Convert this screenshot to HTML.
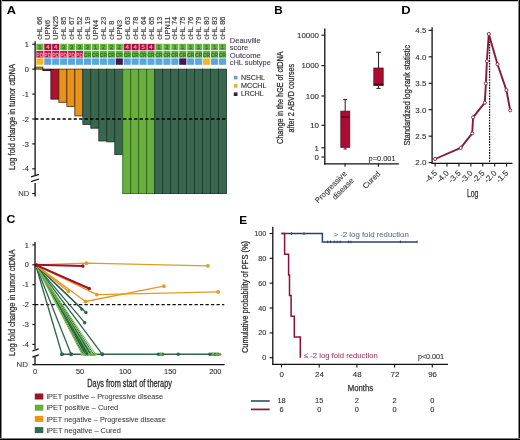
<!DOCTYPE html>
<html><head><meta charset="utf-8"><title>Figure</title>
<style>
html,body{margin:0;padding:0;background:#fff;}
body{width:520px;height:440px;overflow:hidden;}
svg{display:block;font-family:"Liberation Sans", sans-serif;will-change:transform;}
</style></head><body>
<svg width="520" height="440" viewBox="0 0 520 440">
<rect x="0" y="0" width="520" height="440" fill="#fff" />
<text x="6.7" y="13.6" font-size="10.6" fill="#000" font-weight="bold" textLength="9.2" lengthAdjust="spacingAndGlyphs">A</text>
<text transform="translate(42.47 39.7) rotate(-90)" font-size="7.4" fill="#383838" stroke="#383838" stroke-width="0.14">cHL 66</text>
<rect x="36.3" y="43.8" width="7.14" height="6.5" fill="#66b446" />
<text x="39.87" y="49.3" font-size="6" fill="#2f7a22" stroke="#2f7a22" stroke-width="0.3" text-anchor="middle">1</text>
<rect x="36.3" y="51" width="7.14" height="6.6" fill="#b81c48" />
<text x="39.87" y="56.5" font-size="5.8" fill="#ee8aa6" stroke="#ee8aa6" stroke-width="0.3" text-anchor="middle" textLength="7.04" lengthAdjust="spacingAndGlyphs">PD</text>
<rect x="36.3" y="58.4" width="7.14" height="6.4" fill="#f1b823" />
<text transform="translate(50.41 39.7) rotate(-90)" font-size="7.4" fill="#383838" stroke="#383838" stroke-width="0.14">UPN6</text>
<rect x="44.24" y="43.8" width="7.14" height="6.5" fill="#a8113a" />
<text x="47.81" y="49.3" font-size="6" fill="#ee8aa6" stroke="#ee8aa6" stroke-width="0.3" text-anchor="middle">4</text>
<rect x="44.24" y="51" width="7.14" height="6.6" fill="#b81c48" />
<text x="47.81" y="56.5" font-size="5.8" fill="#ee8aa6" stroke="#ee8aa6" stroke-width="0.3" text-anchor="middle" textLength="7.04" lengthAdjust="spacingAndGlyphs">PD</text>
<rect x="44.24" y="58.4" width="7.14" height="6.4" fill="#5ba6df" />
<text transform="translate(58.35 39.7) rotate(-90)" font-size="7.4" fill="#383838" stroke="#383838" stroke-width="0.14">UPN25</text>
<rect x="52.18" y="43.8" width="7.14" height="6.5" fill="#a8113a" />
<text x="55.75" y="49.3" font-size="6" fill="#ee8aa6" stroke="#ee8aa6" stroke-width="0.3" text-anchor="middle">4</text>
<rect x="52.18" y="51" width="7.14" height="6.6" fill="#b81c48" />
<text x="55.75" y="56.5" font-size="5.8" fill="#ee8aa6" stroke="#ee8aa6" stroke-width="0.3" text-anchor="middle" textLength="7.04" lengthAdjust="spacingAndGlyphs">PD</text>
<rect x="52.18" y="58.4" width="7.14" height="6.4" fill="#5ba6df" />
<text transform="translate(66.29 39.7) rotate(-90)" font-size="7.4" fill="#383838" stroke="#383838" stroke-width="0.14">cHL 85</text>
<rect x="60.12" y="43.8" width="7.14" height="6.5" fill="#66b446" />
<text x="63.69" y="49.3" font-size="6" fill="#2f7a22" stroke="#2f7a22" stroke-width="0.3" text-anchor="middle">3</text>
<rect x="60.12" y="51" width="7.14" height="6.6" fill="#b81c48" />
<text x="63.69" y="56.5" font-size="5.8" fill="#ee8aa6" stroke="#ee8aa6" stroke-width="0.3" text-anchor="middle" textLength="7.04" lengthAdjust="spacingAndGlyphs">PD</text>
<rect x="60.12" y="58.4" width="7.14" height="6.4" fill="#5ba6df" />
<text transform="translate(74.23 39.7) rotate(-90)" font-size="7.4" fill="#383838" stroke="#383838" stroke-width="0.14">cHL 67</text>
<rect x="68.06" y="43.8" width="7.14" height="6.5" fill="#66b446" />
<text x="71.63" y="49.3" font-size="6" fill="#2f7a22" stroke="#2f7a22" stroke-width="0.3" text-anchor="middle">3</text>
<rect x="68.06" y="51" width="7.14" height="6.6" fill="#b81c48" />
<text x="71.63" y="56.5" font-size="5.8" fill="#ee8aa6" stroke="#ee8aa6" stroke-width="0.3" text-anchor="middle" textLength="7.04" lengthAdjust="spacingAndGlyphs">PD</text>
<rect x="68.06" y="58.4" width="7.14" height="6.4" fill="#5ba6df" />
<text transform="translate(82.17 39.7) rotate(-90)" font-size="7.4" fill="#383838" stroke="#383838" stroke-width="0.14">cHL 52</text>
<rect x="76" y="43.8" width="7.14" height="6.5" fill="#66b446" />
<text x="79.57" y="49.3" font-size="6" fill="#2f7a22" stroke="#2f7a22" stroke-width="0.3" text-anchor="middle">3</text>
<rect x="76" y="51" width="7.14" height="6.6" fill="#b81c48" />
<text x="79.57" y="56.5" font-size="5.8" fill="#ee8aa6" stroke="#ee8aa6" stroke-width="0.3" text-anchor="middle" textLength="7.04" lengthAdjust="spacingAndGlyphs">PD</text>
<rect x="76" y="58.4" width="7.14" height="6.4" fill="#5ba6df" />
<text transform="translate(90.11 39.7) rotate(-90)" font-size="7.4" fill="#383838" stroke="#383838" stroke-width="0.14">cHL 19</text>
<rect x="83.94" y="43.8" width="7.14" height="6.5" fill="#66b446" />
<text x="87.51" y="49.3" font-size="6" fill="#2f7a22" stroke="#2f7a22" stroke-width="0.3" text-anchor="middle">3</text>
<rect x="83.94" y="51" width="7.14" height="6.6" fill="#66b446" />
<text x="87.51" y="56.5" font-size="5.8" fill="#2f7a22" stroke="#2f7a22" stroke-width="0.3" text-anchor="middle" textLength="7.04" lengthAdjust="spacingAndGlyphs">CR</text>
<rect x="83.94" y="58.4" width="7.14" height="6.4" fill="#5ba6df" />
<text transform="translate(98.05 39.7) rotate(-90)" font-size="7.4" fill="#383838" stroke="#383838" stroke-width="0.14">UPN4</text>
<rect x="91.88" y="43.8" width="7.14" height="6.5" fill="#66b446" />
<text x="95.45" y="49.3" font-size="6" fill="#2f7a22" stroke="#2f7a22" stroke-width="0.3" text-anchor="middle">1</text>
<rect x="91.88" y="51" width="7.14" height="6.6" fill="#66b446" />
<text x="95.45" y="56.5" font-size="5.8" fill="#2f7a22" stroke="#2f7a22" stroke-width="0.3" text-anchor="middle" textLength="7.04" lengthAdjust="spacingAndGlyphs">CR</text>
<rect x="91.88" y="58.4" width="7.14" height="6.4" fill="#5ba6df" />
<text transform="translate(105.99 39.7) rotate(-90)" font-size="7.4" fill="#383838" stroke="#383838" stroke-width="0.14">cHL 23</text>
<rect x="99.82" y="43.8" width="7.14" height="6.5" fill="#66b446" />
<text x="103.39" y="49.3" font-size="6" fill="#2f7a22" stroke="#2f7a22" stroke-width="0.3" text-anchor="middle">2</text>
<rect x="99.82" y="51" width="7.14" height="6.6" fill="#66b446" />
<text x="103.39" y="56.5" font-size="5.8" fill="#2f7a22" stroke="#2f7a22" stroke-width="0.3" text-anchor="middle" textLength="7.04" lengthAdjust="spacingAndGlyphs">CR</text>
<rect x="99.82" y="58.4" width="7.14" height="6.4" fill="#5ba6df" />
<text transform="translate(113.93 39.7) rotate(-90)" font-size="7.4" fill="#383838" stroke="#383838" stroke-width="0.14">cHL 8</text>
<rect x="107.76" y="43.8" width="7.14" height="6.5" fill="#66b446" />
<text x="111.33" y="49.3" font-size="6" fill="#2f7a22" stroke="#2f7a22" stroke-width="0.3" text-anchor="middle">2</text>
<rect x="107.76" y="51" width="7.14" height="6.6" fill="#66b446" />
<text x="111.33" y="56.5" font-size="5.8" fill="#2f7a22" stroke="#2f7a22" stroke-width="0.3" text-anchor="middle" textLength="7.04" lengthAdjust="spacingAndGlyphs">CR</text>
<rect x="107.76" y="58.4" width="7.14" height="6.4" fill="#5ba6df" />
<text transform="translate(121.87 39.7) rotate(-90)" font-size="7.4" fill="#383838" stroke="#383838" stroke-width="0.14">UPN3</text>
<rect x="115.7" y="43.8" width="7.14" height="6.5" fill="#66b446" />
<text x="119.27" y="49.3" font-size="6" fill="#2f7a22" stroke="#2f7a22" stroke-width="0.3" text-anchor="middle">2</text>
<rect x="115.7" y="51" width="7.14" height="6.6" fill="#66b446" />
<text x="119.27" y="56.5" font-size="5.8" fill="#2f7a22" stroke="#2f7a22" stroke-width="0.3" text-anchor="middle" textLength="7.04" lengthAdjust="spacingAndGlyphs">CR</text>
<rect x="115.7" y="58.4" width="7.14" height="6.4" fill="#3e1858" />
<text transform="translate(129.81 39.7) rotate(-90)" font-size="7.4" fill="#383838" stroke="#383838" stroke-width="0.14">cHL 63</text>
<rect x="123.64" y="43.8" width="7.14" height="6.5" fill="#a8113a" />
<text x="127.21" y="49.3" font-size="6" fill="#ee8aa6" stroke="#ee8aa6" stroke-width="0.3" text-anchor="middle">4</text>
<rect x="123.64" y="51" width="7.14" height="6.6" fill="#66b446" />
<text x="127.21" y="56.5" font-size="5.8" fill="#2f7a22" stroke="#2f7a22" stroke-width="0.3" text-anchor="middle" textLength="7.04" lengthAdjust="spacingAndGlyphs">CR</text>
<rect x="123.64" y="58.4" width="7.14" height="6.4" fill="#5ba6df" />
<text transform="translate(137.75 39.7) rotate(-90)" font-size="7.4" fill="#383838" stroke="#383838" stroke-width="0.14">cHL 78</text>
<rect x="131.58" y="43.8" width="7.14" height="6.5" fill="#a8113a" />
<text x="135.15" y="49.3" font-size="6" fill="#ee8aa6" stroke="#ee8aa6" stroke-width="0.3" text-anchor="middle">4</text>
<rect x="131.58" y="51" width="7.14" height="6.6" fill="#66b446" />
<text x="135.15" y="56.5" font-size="5.8" fill="#2f7a22" stroke="#2f7a22" stroke-width="0.3" text-anchor="middle" textLength="7.04" lengthAdjust="spacingAndGlyphs">CR</text>
<rect x="131.58" y="58.4" width="7.14" height="6.4" fill="#5ba6df" />
<text transform="translate(145.69 39.7) rotate(-90)" font-size="7.4" fill="#383838" stroke="#383838" stroke-width="0.14">cHL 64</text>
<rect x="139.52" y="43.8" width="7.14" height="6.5" fill="#a8113a" />
<text x="143.09" y="49.3" font-size="6" fill="#ee8aa6" stroke="#ee8aa6" stroke-width="0.3" text-anchor="middle">5</text>
<rect x="139.52" y="51" width="7.14" height="6.6" fill="#66b446" />
<text x="143.09" y="56.5" font-size="5.8" fill="#2f7a22" stroke="#2f7a22" stroke-width="0.3" text-anchor="middle" textLength="7.04" lengthAdjust="spacingAndGlyphs">CR</text>
<rect x="139.52" y="58.4" width="7.14" height="6.4" fill="#5ba6df" />
<text transform="translate(153.63 39.7) rotate(-90)" font-size="7.4" fill="#383838" stroke="#383838" stroke-width="0.14">cHL 65</text>
<rect x="147.46" y="43.8" width="7.14" height="6.5" fill="#a8113a" />
<text x="151.03" y="49.3" font-size="6" fill="#ee8aa6" stroke="#ee8aa6" stroke-width="0.3" text-anchor="middle">4</text>
<rect x="147.46" y="51" width="7.14" height="6.6" fill="#66b446" />
<text x="151.03" y="56.5" font-size="5.8" fill="#2f7a22" stroke="#2f7a22" stroke-width="0.3" text-anchor="middle" textLength="7.04" lengthAdjust="spacingAndGlyphs">CR</text>
<rect x="147.46" y="58.4" width="7.14" height="6.4" fill="#5ba6df" />
<text transform="translate(161.57 39.7) rotate(-90)" font-size="7.4" fill="#383838" stroke="#383838" stroke-width="0.14">cHL 13</text>
<rect x="155.4" y="43.8" width="7.14" height="6.5" fill="#66b446" />
<text x="158.97" y="49.3" font-size="6" fill="#2f7a22" stroke="#2f7a22" stroke-width="0.3" text-anchor="middle">1</text>
<rect x="155.4" y="51" width="7.14" height="6.6" fill="#66b446" />
<text x="158.97" y="56.5" font-size="5.8" fill="#2f7a22" stroke="#2f7a22" stroke-width="0.3" text-anchor="middle" textLength="7.04" lengthAdjust="spacingAndGlyphs">CR</text>
<rect x="155.4" y="58.4" width="7.14" height="6.4" fill="#5ba6df" />
<text transform="translate(169.51 39.7) rotate(-90)" font-size="7.4" fill="#383838" stroke="#383838" stroke-width="0.14">UPN11</text>
<rect x="163.34" y="43.8" width="7.14" height="6.5" fill="#66b446" />
<text x="166.91" y="49.3" font-size="6" fill="#2f7a22" stroke="#2f7a22" stroke-width="0.3" text-anchor="middle">2</text>
<rect x="163.34" y="51" width="7.14" height="6.6" fill="#66b446" />
<text x="166.91" y="56.5" font-size="5.8" fill="#2f7a22" stroke="#2f7a22" stroke-width="0.3" text-anchor="middle" textLength="7.04" lengthAdjust="spacingAndGlyphs">CR</text>
<rect x="163.34" y="58.4" width="7.14" height="6.4" fill="#5ba6df" />
<text transform="translate(177.45 39.7) rotate(-90)" font-size="7.4" fill="#383838" stroke="#383838" stroke-width="0.14">cHL 74</text>
<rect x="171.28" y="43.8" width="7.14" height="6.5" fill="#66b446" />
<text x="174.85" y="49.3" font-size="6" fill="#2f7a22" stroke="#2f7a22" stroke-width="0.3" text-anchor="middle">1</text>
<rect x="171.28" y="51" width="7.14" height="6.6" fill="#66b446" />
<text x="174.85" y="56.5" font-size="5.8" fill="#2f7a22" stroke="#2f7a22" stroke-width="0.3" text-anchor="middle" textLength="7.04" lengthAdjust="spacingAndGlyphs">CR</text>
<rect x="171.28" y="58.4" width="7.14" height="6.4" fill="#5ba6df" />
<text transform="translate(185.39 39.7) rotate(-90)" font-size="7.4" fill="#383838" stroke="#383838" stroke-width="0.14">cHL 75</text>
<rect x="179.22" y="43.8" width="7.14" height="6.5" fill="#66b446" />
<text x="182.79" y="49.3" font-size="6" fill="#2f7a22" stroke="#2f7a22" stroke-width="0.3" text-anchor="middle">1</text>
<rect x="179.22" y="51" width="7.14" height="6.6" fill="#66b446" />
<text x="182.79" y="56.5" font-size="5.8" fill="#2f7a22" stroke="#2f7a22" stroke-width="0.3" text-anchor="middle" textLength="7.04" lengthAdjust="spacingAndGlyphs">CR</text>
<rect x="179.22" y="58.4" width="7.14" height="6.4" fill="#3e1858" />
<text transform="translate(193.33 39.7) rotate(-90)" font-size="7.4" fill="#383838" stroke="#383838" stroke-width="0.14">cHL 76</text>
<rect x="187.16" y="43.8" width="7.14" height="6.5" fill="#66b446" />
<text x="190.73" y="49.3" font-size="6" fill="#2f7a22" stroke="#2f7a22" stroke-width="0.3" text-anchor="middle">1</text>
<rect x="187.16" y="51" width="7.14" height="6.6" fill="#66b446" />
<text x="190.73" y="56.5" font-size="5.8" fill="#2f7a22" stroke="#2f7a22" stroke-width="0.3" text-anchor="middle" textLength="7.04" lengthAdjust="spacingAndGlyphs">CR</text>
<rect x="187.16" y="58.4" width="7.14" height="6.4" fill="#5ba6df" />
<text transform="translate(201.27 39.7) rotate(-90)" font-size="7.4" fill="#383838" stroke="#383838" stroke-width="0.14">cHL 79</text>
<rect x="195.1" y="43.8" width="7.14" height="6.5" fill="#66b446" />
<text x="198.67" y="49.3" font-size="6" fill="#2f7a22" stroke="#2f7a22" stroke-width="0.3" text-anchor="middle">1</text>
<rect x="195.1" y="51" width="7.14" height="6.6" fill="#66b446" />
<text x="198.67" y="56.5" font-size="5.8" fill="#2f7a22" stroke="#2f7a22" stroke-width="0.3" text-anchor="middle" textLength="7.04" lengthAdjust="spacingAndGlyphs">CR</text>
<rect x="195.1" y="58.4" width="7.14" height="6.4" fill="#5ba6df" />
<text transform="translate(209.21 39.7) rotate(-90)" font-size="7.4" fill="#383838" stroke="#383838" stroke-width="0.14">cHL 80</text>
<rect x="203.04" y="43.8" width="7.14" height="6.5" fill="#66b446" />
<text x="206.61" y="49.3" font-size="6" fill="#2f7a22" stroke="#2f7a22" stroke-width="0.3" text-anchor="middle">1</text>
<rect x="203.04" y="51" width="7.14" height="6.6" fill="#66b446" />
<text x="206.61" y="56.5" font-size="5.8" fill="#2f7a22" stroke="#2f7a22" stroke-width="0.3" text-anchor="middle" textLength="7.04" lengthAdjust="spacingAndGlyphs">CR</text>
<rect x="203.04" y="58.4" width="7.14" height="6.4" fill="#f1b823" />
<text transform="translate(217.15 39.7) rotate(-90)" font-size="7.4" fill="#383838" stroke="#383838" stroke-width="0.14">cHL 83</text>
<rect x="210.98" y="43.8" width="7.14" height="6.5" fill="#66b446" />
<text x="214.55" y="49.3" font-size="6" fill="#2f7a22" stroke="#2f7a22" stroke-width="0.3" text-anchor="middle">1</text>
<rect x="210.98" y="51" width="7.14" height="6.6" fill="#66b446" />
<text x="214.55" y="56.5" font-size="5.8" fill="#2f7a22" stroke="#2f7a22" stroke-width="0.3" text-anchor="middle" textLength="7.04" lengthAdjust="spacingAndGlyphs">CR</text>
<rect x="210.98" y="58.4" width="7.14" height="6.4" fill="#5ba6df" />
<text transform="translate(225.09 39.7) rotate(-90)" font-size="7.4" fill="#383838" stroke="#383838" stroke-width="0.14">cHL 86</text>
<rect x="218.92" y="43.8" width="7.14" height="6.5" fill="#66b446" />
<text x="222.49" y="49.3" font-size="6" fill="#2f7a22" stroke="#2f7a22" stroke-width="0.3" text-anchor="middle">1</text>
<rect x="218.92" y="51" width="7.14" height="6.6" fill="#66b446" />
<text x="222.49" y="56.5" font-size="5.8" fill="#2f7a22" stroke="#2f7a22" stroke-width="0.3" text-anchor="middle" textLength="7.04" lengthAdjust="spacingAndGlyphs">CR</text>
<rect x="218.92" y="58.4" width="7.14" height="6.4" fill="#5ba6df" />
<text x="229.8" y="43.2" font-size="7.5" fill="#463f52" stroke="#463f52" stroke-width="0.12" textLength="30.9" lengthAdjust="spacingAndGlyphs">Deauville</text>
<text x="229.8" y="49.8" font-size="7.5" fill="#463f52" stroke="#463f52" stroke-width="0.12" textLength="18.5" lengthAdjust="spacingAndGlyphs">score</text>
<text x="229.8" y="57.5" font-size="7.5" fill="#463f52" stroke="#463f52" stroke-width="0.12" textLength="31" lengthAdjust="spacingAndGlyphs">Outcome</text>
<text x="229.8" y="65" font-size="7.5" fill="#463f52" stroke="#463f52" stroke-width="0.12" textLength="41" lengthAdjust="spacingAndGlyphs">cHL subtype</text>
<rect x="233.8" y="75.8" width="3.7" height="3.6" fill="#6b9fc7" />
<text x="241" y="79.7" font-size="7.3" fill="#2a2a2a" stroke="#2a2a2a" stroke-width="0.1" textLength="24" lengthAdjust="spacingAndGlyphs">NSCHL</text>
<rect x="233.8" y="84.1" width="3.7" height="3.6" fill="#e0b830" />
<text x="241" y="88" font-size="7.3" fill="#2a2a2a" stroke="#2a2a2a" stroke-width="0.1" textLength="25.5" lengthAdjust="spacingAndGlyphs">MCCHL</text>
<rect x="233.8" y="92.4" width="3.7" height="3.6" fill="#3a1c55" />
<text x="241" y="96.3" font-size="7.3" fill="#2a2a2a" stroke="#2a2a2a" stroke-width="0.1" textLength="22.6" lengthAdjust="spacingAndGlyphs">LRCHL</text>
<rect x="34.91" y="67.1" width="7.99" height="2.05" fill="#b89a1c" stroke="#3a3000" stroke-width="0.8"/>
<rect x="42.89" y="69.15" width="7.99" height="1.45" fill="#b0112f" stroke="#2a0008" stroke-width="0.8"/>
<rect x="50.88" y="69.15" width="7.99" height="29.95" fill="#b0112f" stroke="#3a0510" stroke-width="0.8"/>
<rect x="58.86" y="69.15" width="7.99" height="33.15" fill="#e8921c" stroke="#4a2a00" stroke-width="0.8"/>
<rect x="66.85" y="69.15" width="7.99" height="37.35" fill="#e8921c" stroke="#4a2a00" stroke-width="0.8"/>
<rect x="74.84" y="69.15" width="7.99" height="46.75" fill="#e8921c" stroke="#4a2a00" stroke-width="0.8"/>
<rect x="82.82" y="69.15" width="7.99" height="55.35" fill="#3a6650" stroke="#143a26" stroke-width="0.8"/>
<rect x="90.81" y="69.15" width="7.99" height="59.05" fill="#3a6650" stroke="#143a26" stroke-width="0.8"/>
<rect x="98.79" y="69.15" width="7.99" height="71.85" fill="#3a6650" stroke="#143a26" stroke-width="0.8"/>
<rect x="106.78" y="69.15" width="7.99" height="72.75" fill="#3a6650" stroke="#143a26" stroke-width="0.8"/>
<rect x="114.76" y="69.15" width="7.99" height="85.45" fill="#3a6650" stroke="#143a26" stroke-width="0.8"/>
<rect x="122.75" y="69.15" width="7.99" height="124.45" fill="#6aae3c" stroke="#25601c" stroke-width="0.8"/>
<rect x="130.73" y="69.15" width="7.99" height="124.45" fill="#6aae3c" stroke="#25601c" stroke-width="0.8"/>
<rect x="138.72" y="69.15" width="7.99" height="124.45" fill="#6aae3c" stroke="#25601c" stroke-width="0.8"/>
<rect x="146.7" y="69.15" width="7.99" height="124.45" fill="#6aae3c" stroke="#25601c" stroke-width="0.8"/>
<rect x="154.69" y="69.15" width="7.99" height="124.45" fill="#3a6650" stroke="#143a26" stroke-width="0.8"/>
<rect x="162.67" y="69.15" width="7.99" height="124.45" fill="#3a6650" stroke="#143a26" stroke-width="0.8"/>
<rect x="170.66" y="69.15" width="7.99" height="124.45" fill="#3a6650" stroke="#143a26" stroke-width="0.8"/>
<rect x="178.64" y="69.15" width="7.99" height="124.45" fill="#3a6650" stroke="#143a26" stroke-width="0.8"/>
<rect x="186.62" y="69.15" width="7.99" height="124.45" fill="#3a6650" stroke="#143a26" stroke-width="0.8"/>
<rect x="194.61" y="69.15" width="7.99" height="124.45" fill="#3a6650" stroke="#143a26" stroke-width="0.8"/>
<rect x="202.59" y="69.15" width="7.99" height="124.45" fill="#3a6650" stroke="#143a26" stroke-width="0.8"/>
<rect x="210.58" y="69.15" width="7.99" height="124.45" fill="#3a6650" stroke="#143a26" stroke-width="0.8"/>
<rect x="218.56" y="69.15" width="7.99" height="124.45" fill="#3a6650" stroke="#143a26" stroke-width="0.8"/>
<line x1="35.1" y1="41.2" x2="35.1" y2="175.2" stroke="#111" stroke-width="1.3" />
<line x1="35.1" y1="183" x2="35.1" y2="196.4" stroke="#111" stroke-width="1.3" />
<line x1="32.2" y1="44.23" x2="35.1" y2="44.23" stroke="#111" stroke-width="1.1" />
<text x="28.9" y="46.83" font-size="7.4" fill="#2e2e2e" stroke="#2e2e2e" stroke-width="0.1" text-anchor="end">1</text>
<line x1="32.2" y1="69.15" x2="35.1" y2="69.15" stroke="#111" stroke-width="1.1" />
<text x="28.9" y="71.75" font-size="7.4" fill="#2e2e2e" stroke="#2e2e2e" stroke-width="0.1" text-anchor="end">0</text>
<line x1="32.2" y1="94.07" x2="35.1" y2="94.07" stroke="#111" stroke-width="1.1" />
<text x="28.9" y="96.67" font-size="7.4" fill="#2e2e2e" stroke="#2e2e2e" stroke-width="0.1" text-anchor="end">-1</text>
<line x1="32.2" y1="118.99" x2="35.1" y2="118.99" stroke="#111" stroke-width="1.1" />
<text x="28.9" y="121.59" font-size="7.4" fill="#2e2e2e" stroke="#2e2e2e" stroke-width="0.1" text-anchor="end">-2</text>
<line x1="32.2" y1="143.91" x2="35.1" y2="143.91" stroke="#111" stroke-width="1.1" />
<text x="28.9" y="146.51" font-size="7.4" fill="#2e2e2e" stroke="#2e2e2e" stroke-width="0.1" text-anchor="end">-3</text>
<line x1="32.2" y1="168.83" x2="35.1" y2="168.83" stroke="#111" stroke-width="1.1" />
<text x="28.9" y="171.43" font-size="7.4" fill="#2e2e2e" stroke="#2e2e2e" stroke-width="0.1" text-anchor="end">-4</text>
<line x1="32.2" y1="193.6" x2="35.1" y2="193.6" stroke="#111" stroke-width="1.1" />
<text x="29.2" y="196.2" font-size="7.4" fill="#444" stroke="#444" stroke-width="0.1" text-anchor="end" textLength="11" lengthAdjust="spacingAndGlyphs">ND</text>
<line x1="31" y1="176.9" x2="39" y2="174.3" stroke="#111" stroke-width="1.3" />
<line x1="31" y1="181.6" x2="39" y2="179" stroke="#111" stroke-width="1.3" />
<line x1="35.1" y1="118.99" x2="226.6" y2="118.99" stroke="#000" stroke-width="1.35" stroke-dasharray="3.3 2.2"/>
<text transform="translate(15.4 170) rotate(-90)" font-size="8.4" fill="#2e2e2e" stroke="#2e2e2e" stroke-width="0.25" textLength="106" lengthAdjust="spacingAndGlyphs">Log fold change in tumor ctDNA</text>
<text x="274.2" y="13.6" font-size="10.6" fill="#000" font-weight="bold" textLength="8.4" lengthAdjust="spacingAndGlyphs">B</text>
<line x1="324.8" y1="28.4" x2="324.8" y2="164.4" stroke="#111" stroke-width="1.3" />
<line x1="324.2" y1="163.8" x2="398.8" y2="163.8" stroke="#111" stroke-width="1.3" />
<line x1="321.4" y1="35.2" x2="324.8" y2="35.2" stroke="#111" stroke-width="1.1" />
<text x="319" y="38" font-size="7.9" fill="#2e2e2e" stroke="#2e2e2e" stroke-width="0.1" text-anchor="end">10000</text>
<line x1="321.4" y1="65.64" x2="324.8" y2="65.64" stroke="#111" stroke-width="1.1" />
<text x="319" y="68.44" font-size="7.9" fill="#2e2e2e" stroke="#2e2e2e" stroke-width="0.1" text-anchor="end">1000</text>
<line x1="321.4" y1="95.97" x2="324.8" y2="95.97" stroke="#111" stroke-width="1.1" />
<text x="319" y="98.77" font-size="7.9" fill="#2e2e2e" stroke="#2e2e2e" stroke-width="0.1" text-anchor="end">100</text>
<line x1="321.4" y1="125.29" x2="324.8" y2="125.29" stroke="#111" stroke-width="1.1" />
<text x="319" y="128.09" font-size="7.9" fill="#2e2e2e" stroke="#2e2e2e" stroke-width="0.1" text-anchor="end">10</text>
<line x1="321.4" y1="147.83" x2="324.8" y2="147.83" stroke="#111" stroke-width="1.1" />
<text x="319" y="150.63" font-size="7.9" fill="#2e2e2e" stroke="#2e2e2e" stroke-width="0.1" text-anchor="end">1</text>
<line x1="321.4" y1="157" x2="324.8" y2="157" stroke="#111" stroke-width="1.1" />
<text x="319" y="159.8" font-size="7.9" fill="#2e2e2e" stroke="#2e2e2e" stroke-width="0.1" text-anchor="end">0</text>
<line x1="345" y1="163.8" x2="345" y2="166.8" stroke="#111" stroke-width="1.1" />
<line x1="378.4" y1="163.8" x2="378.4" y2="166.8" stroke="#111" stroke-width="1.1" />
<line x1="345.2" y1="99.5" x2="345.2" y2="111.1" stroke="#3a2a2a" stroke-width="1.1" />
<line x1="343.2" y1="99.5" x2="347.2" y2="99.5" stroke="#3a2a2a" stroke-width="1.1" />
<line x1="345.2" y1="147.4" x2="345.2" y2="149" stroke="#3a2a2a" stroke-width="1" />
<line x1="343.6" y1="149" x2="346.8" y2="149" stroke="#3a2a2a" stroke-width="1" />
<rect x="340.8" y="111.1" width="9.0" height="36.3" fill="#ab0c33" stroke="#5a0618" stroke-width="0.7"/>
<line x1="340.8" y1="117" x2="349.8" y2="117" stroke="#4a0010" stroke-width="1.2" />
<line x1="378.5" y1="52.3" x2="378.5" y2="68" stroke="#2a2a2a" stroke-width="1.1" />
<line x1="376.1" y1="52.3" x2="380.9" y2="52.3" stroke="#2a2a2a" stroke-width="1.1" />
<line x1="378.5" y1="85.7" x2="378.5" y2="88.4" stroke="#2a2a2a" stroke-width="1" />
<line x1="376.3" y1="88.4" x2="380.7" y2="88.4" stroke="#2a2a2a" stroke-width="1" />
<rect x="373.8" y="68.0" width="9.4" height="17.7" fill="#ab0c33" stroke="#5a0618" stroke-width="0.7"/>
<line x1="373.8" y1="84.4" x2="383.2" y2="84.4" stroke="#4a0010" stroke-width="1.2" />
<text x="368.6" y="161" font-size="7" fill="#2e2e2e" stroke="#2e2e2e" stroke-width="0.1" textLength="27" lengthAdjust="spacingAndGlyphs">p=0.001</text>
<text transform="translate(282.7 143.9) rotate(-90)" font-size="9" fill="#2e2e2e" stroke="#2e2e2e" stroke-width="0.25" textLength="92.4" lengthAdjust="spacingAndGlyphs">Change in the hGE of ctDNA</text>
<text transform="translate(294 132.6) rotate(-90)" font-size="9" fill="#2e2e2e" stroke="#2e2e2e" stroke-width="0.25" textLength="68.8" lengthAdjust="spacingAndGlyphs">after 2 ABVD courses</text>
<text transform="translate(347.2 174.3) rotate(-45)" font-size="7.8" fill="#2e2e2e" stroke="#2e2e2e" stroke-width="0.1" text-anchor="end">Progressive</text>
<text transform="translate(354.2 181.3) rotate(-45)" font-size="7.8" fill="#2e2e2e" stroke="#2e2e2e" stroke-width="0.1" text-anchor="end">disease</text>
<text transform="translate(380.8 174.3) rotate(-45)" font-size="7.8" fill="#2e2e2e" stroke="#2e2e2e" stroke-width="0.1" text-anchor="end">Cured</text>
<text x="401.2" y="13.6" font-size="10.6" fill="#000" font-weight="bold" textLength="9.4" lengthAdjust="spacingAndGlyphs">D</text>
<line x1="432.1" y1="27.3" x2="432.1" y2="163.5" stroke="#111" stroke-width="1.3" />
<line x1="431.5" y1="163.4" x2="512.4" y2="163.4" stroke="#111" stroke-width="1.3" />
<line x1="428.6" y1="30.35" x2="432.1" y2="30.35" stroke="#111" stroke-width="1.1" />
<text x="426.3" y="33.15" font-size="7.9" fill="#2e2e2e" stroke="#2e2e2e" stroke-width="0.1" text-anchor="end">4.5</text>
<line x1="428.6" y1="56.8" x2="432.1" y2="56.8" stroke="#111" stroke-width="1.1" />
<text x="426.3" y="59.6" font-size="7.9" fill="#2e2e2e" stroke="#2e2e2e" stroke-width="0.1" text-anchor="end">4.0</text>
<line x1="428.6" y1="83.25" x2="432.1" y2="83.25" stroke="#111" stroke-width="1.1" />
<text x="426.3" y="86.05" font-size="7.9" fill="#2e2e2e" stroke="#2e2e2e" stroke-width="0.1" text-anchor="end">3.5</text>
<line x1="428.6" y1="109.7" x2="432.1" y2="109.7" stroke="#111" stroke-width="1.1" />
<text x="426.3" y="112.5" font-size="7.9" fill="#2e2e2e" stroke="#2e2e2e" stroke-width="0.1" text-anchor="end">3.0</text>
<line x1="428.6" y1="136.15" x2="432.1" y2="136.15" stroke="#111" stroke-width="1.1" />
<text x="426.3" y="138.95" font-size="7.9" fill="#2e2e2e" stroke="#2e2e2e" stroke-width="0.1" text-anchor="end">2.5</text>
<line x1="428.6" y1="162.6" x2="432.1" y2="162.6" stroke="#111" stroke-width="1.1" />
<text x="426.3" y="165.4" font-size="7.9" fill="#2e2e2e" stroke="#2e2e2e" stroke-width="0.1" text-anchor="end">2.0</text>
<line x1="435.15" y1="163.4" x2="435.15" y2="166.6" stroke="#111" stroke-width="1.1" />
<text transform="translate(437.55 173.6) rotate(-45)" font-size="8" fill="#2e2e2e" stroke="#2e2e2e" stroke-width="0.1" text-anchor="end">-4.5</text>
<line x1="447.05" y1="163.4" x2="447.05" y2="166.6" stroke="#111" stroke-width="1.1" />
<text transform="translate(449.45 173.6) rotate(-45)" font-size="8" fill="#2e2e2e" stroke="#2e2e2e" stroke-width="0.1" text-anchor="end">-4.0</text>
<line x1="458.95" y1="163.4" x2="458.95" y2="166.6" stroke="#111" stroke-width="1.1" />
<text transform="translate(461.35 173.6) rotate(-45)" font-size="8" fill="#2e2e2e" stroke="#2e2e2e" stroke-width="0.1" text-anchor="end">-3.5</text>
<line x1="470.85" y1="163.4" x2="470.85" y2="166.6" stroke="#111" stroke-width="1.1" />
<text transform="translate(473.25 173.6) rotate(-45)" font-size="8" fill="#2e2e2e" stroke="#2e2e2e" stroke-width="0.1" text-anchor="end">-3.0</text>
<line x1="482.75" y1="163.4" x2="482.75" y2="166.6" stroke="#111" stroke-width="1.1" />
<text transform="translate(485.15 173.6) rotate(-45)" font-size="8" fill="#2e2e2e" stroke="#2e2e2e" stroke-width="0.1" text-anchor="end">-2.5</text>
<line x1="494.65" y1="163.4" x2="494.65" y2="166.6" stroke="#111" stroke-width="1.1" />
<text transform="translate(497.05 173.6) rotate(-45)" font-size="8" fill="#2e2e2e" stroke="#2e2e2e" stroke-width="0.1" text-anchor="end">-2.0</text>
<line x1="506.55" y1="163.4" x2="506.55" y2="166.6" stroke="#111" stroke-width="1.1" />
<text transform="translate(508.95 173.6) rotate(-45)" font-size="8" fill="#2e2e2e" stroke="#2e2e2e" stroke-width="0.1" text-anchor="end">-1.5</text>
<text x="467" y="196.8" font-size="10" fill="#2e2e2e" stroke="#2e2e2e" stroke-width="0.25" textLength="11.4" lengthAdjust="spacingAndGlyphs">Log</text>
<text transform="translate(410.2 145.6) rotate(-90)" font-size="8.2" fill="#2e2e2e" stroke="#2e2e2e" stroke-width="0.25" textLength="100.5" lengthAdjust="spacingAndGlyphs">Standardized log-rank statistic</text>
<line x1="489.6" y1="36" x2="489.6" y2="163" stroke="#000" stroke-width="1.2" stroke-dasharray="1.6 1.1"/>
<polyline points="435.1,159 460.7,147.9 472.2,133.4 473.1,117.3 484.8,102.7 485.9,83.4 486.9,61.1 488.8,33.9 497.5,64.2 506.4,90.1 510.2,110.3" fill="none" stroke="#861840" stroke-width="1.9" stroke-linejoin="round"/>
<circle cx="435.1" cy="159" r="1.55" fill="#fff" stroke="#861840" stroke-width="0.9"/>
<circle cx="460.7" cy="147.9" r="1.55" fill="#fff" stroke="#861840" stroke-width="0.9"/>
<circle cx="472.2" cy="133.4" r="1.55" fill="#fff" stroke="#861840" stroke-width="0.9"/>
<circle cx="473.1" cy="117.3" r="1.55" fill="#fff" stroke="#861840" stroke-width="0.9"/>
<circle cx="484.8" cy="102.7" r="1.55" fill="#fff" stroke="#861840" stroke-width="0.9"/>
<circle cx="485.9" cy="83.4" r="1.55" fill="#fff" stroke="#861840" stroke-width="0.9"/>
<circle cx="486.9" cy="61.1" r="1.55" fill="#fff" stroke="#861840" stroke-width="0.9"/>
<circle cx="488.8" cy="33.9" r="1.55" fill="#fff" stroke="#861840" stroke-width="0.9"/>
<circle cx="497.5" cy="64.2" r="1.55" fill="#fff" stroke="#861840" stroke-width="0.9"/>
<circle cx="506.4" cy="90.1" r="1.55" fill="#fff" stroke="#861840" stroke-width="0.9"/>
<circle cx="510.2" cy="110.3" r="1.55" fill="#fff" stroke="#861840" stroke-width="0.9"/>
<text x="6.5" y="223.2" font-size="10.6" fill="#000" font-weight="bold" textLength="8.9" lengthAdjust="spacingAndGlyphs">C</text>
<line x1="35" y1="304.6" x2="224.3" y2="304.6" stroke="#111" stroke-width="1.35" stroke-dasharray="3.3 2.2"/>
<polyline points="62.1,354.3 220,354.3" fill="none" stroke="#2d654c" stroke-width="1.4" stroke-linejoin="round"/>
<polygon points="35.6,264.8 82.6,354.3 92.0,354.3" fill="#38724a"/>
<polyline points="35.6,264.8 62,354.3" fill="none" stroke="#2d654c" stroke-width="1.3" stroke-linejoin="round"/>
<circle cx="62" cy="354.3" r="2" fill="#2d654c"/>
<polyline points="35.6,264.8 71.1,354.3" fill="none" stroke="#2d654c" stroke-width="1.3" stroke-linejoin="round"/>
<circle cx="71.1" cy="354.3" r="2" fill="#2d654c"/>
<polyline points="35.6,264.8 102.3,354.3" fill="none" stroke="#2d654c" stroke-width="1.3" stroke-linejoin="round"/>
<circle cx="102.3" cy="354.3" r="2" fill="#2d654c"/>
<polyline points="35.6,264.8 85.5,354.3" fill="none" stroke="#2a5f44" stroke-width="1" stroke-linejoin="round"/>
<circle cx="85.5" cy="354.3" r="1.5" fill="#2a5f44"/>
<polyline points="35.6,264.8 87.9,354.3" fill="none" stroke="#2a5f44" stroke-width="1" stroke-linejoin="round"/>
<circle cx="87.9" cy="354.3" r="1.5" fill="#2a5f44"/>
<polyline points="35.6,264.8 90.8,354.3" fill="none" stroke="#2a5f44" stroke-width="1" stroke-linejoin="round"/>
<circle cx="90.8" cy="354.3" r="1.5" fill="#2a5f44"/>
<polyline points="35.6,264.8 93.6,354.3" fill="none" stroke="#2a5f44" stroke-width="1" stroke-linejoin="round"/>
<circle cx="93.6" cy="354.3" r="1.5" fill="#2a5f44"/>
<polyline points="35.6,264.8 82.1,354.3" fill="none" stroke="#70ba4a" stroke-width="1" stroke-linejoin="round"/>
<circle cx="82.1" cy="354.3" r="1.5" fill="#70ba4a"/>
<polyline points="35.6,264.8 84.2,354.3" fill="none" stroke="#70ba4a" stroke-width="1" stroke-linejoin="round"/>
<circle cx="84.2" cy="354.3" r="1.5" fill="#70ba4a"/>
<polyline points="35.6,264.8 89.4,354.3" fill="none" stroke="#70ba4a" stroke-width="1" stroke-linejoin="round"/>
<circle cx="89.4" cy="354.3" r="1.5" fill="#70ba4a"/>
<polyline points="35.6,264.8 92.2,354.3" fill="none" stroke="#70ba4a" stroke-width="1" stroke-linejoin="round"/>
<circle cx="92.2" cy="354.3" r="1.5" fill="#70ba4a"/>
<polyline points="35.6,264.8 95.6,354.3" fill="none" stroke="#70ba4a" stroke-width="1" stroke-linejoin="round"/>
<circle cx="95.6" cy="354.3" r="1.5" fill="#70ba4a"/>
<polyline points="35.6,264.8 81.8,309.1" fill="none" stroke="#2d654c" stroke-width="1.25" stroke-linejoin="round"/>
<circle cx="81.8" cy="309.1" r="1.7" fill="#2d654c"/>
<polyline points="35.6,264.8 85.9,312.5" fill="none" stroke="#2d654c" stroke-width="1.25" stroke-linejoin="round"/>
<circle cx="85.9" cy="312.5" r="1.7" fill="#2d654c"/>
<polyline points="35.6,264.8 84.7,322.7" fill="none" stroke="#2d654c" stroke-width="1.25" stroke-linejoin="round"/>
<circle cx="84.7" cy="322.7" r="1.7" fill="#2d654c"/>
<circle cx="158.4" cy="354.3" r="1.8" fill="#2d654c"/>
<circle cx="160.5" cy="354.3" r="1.8" fill="#2d654c"/>
<circle cx="162.5" cy="354.3" r="1.8" fill="#2d654c"/>
<circle cx="178.2" cy="354.3" r="1.8" fill="#2d654c"/>
<circle cx="209.8" cy="354.3" r="1.8" fill="#2d654c"/>
<circle cx="212" cy="354.3" r="1.8" fill="#2d654c"/>
<circle cx="214" cy="354.3" r="1.8" fill="#2d654c"/>
<circle cx="216" cy="354.3" r="1.8" fill="#2d654c"/>
<circle cx="218" cy="354.3" r="1.8" fill="#2d654c"/>
<circle cx="161" cy="354.3" r="1.6" fill="#6db04a"/>
<circle cx="213" cy="354.3" r="1.6" fill="#6db04a"/>
<circle cx="217" cy="354.3" r="1.6" fill="#6db04a"/>
<circle cx="219.9" cy="354.3" r="1.6" fill="#6db04a"/>
<polyline points="35.6,264.8 86.5,263.2 207.9,265.8" fill="none" stroke="#e49a22" stroke-width="1.35" stroke-linejoin="round"/>
<circle cx="86.5" cy="263.2" r="1.9" fill="#e49a22"/>
<circle cx="207.9" cy="265.8" r="1.9" fill="#e49a22"/>
<polyline points="35.6,264.8 68.4,291.4" fill="none" stroke="#e49a22" stroke-width="1.5" stroke-linejoin="round"/>
<circle cx="68.4" cy="291.4" r="1.8" fill="#e49a22"/>
<polyline points="35.6,264.8 96.9,294.7 218.1,291.9" fill="none" stroke="#e49a22" stroke-width="1.35" stroke-linejoin="round"/>
<circle cx="96.9" cy="294.7" r="1.9" fill="#e49a22"/>
<circle cx="218.1" cy="291.9" r="1.9" fill="#e49a22"/>
<polyline points="35.6,264.8 85.4,301.5 163.8,286.2" fill="none" stroke="#e49a22" stroke-width="1.35" stroke-linejoin="round"/>
<circle cx="85.4" cy="301.5" r="1.9" fill="#e49a22"/>
<circle cx="163.8" cy="286.2" r="1.9" fill="#e49a22"/>
<polyline points="35.6,264.8 82.8,266.1" fill="none" stroke="#a01226" stroke-width="2" stroke-linejoin="round"/>
<circle cx="82.8" cy="266.1" r="1.8" fill="#a01226"/>
<polyline points="35.6,264.8 89.2,288.5" fill="none" stroke="#a01226" stroke-width="2" stroke-linejoin="round"/>
<circle cx="89.2" cy="288.5" r="1.8" fill="#a01226"/>
<circle cx="36.6" cy="265.0" r="1.8" fill="#a01226"/>
<line x1="35" y1="242" x2="35" y2="349.2" stroke="#111" stroke-width="1.3" />
<line x1="35" y1="356.8" x2="35" y2="365.2" stroke="#111" stroke-width="1.3" />
<line x1="32.3" y1="364.6" x2="224.6" y2="364.6" stroke="#111" stroke-width="1.3" />
<line x1="32.3" y1="244.9" x2="35" y2="244.9" stroke="#111" stroke-width="1.1" />
<text x="28.9" y="247.5" font-size="7.4" fill="#2e2e2e" stroke="#2e2e2e" stroke-width="0.1" text-anchor="end">1</text>
<line x1="32.3" y1="264.8" x2="35" y2="264.8" stroke="#111" stroke-width="1.1" />
<text x="28.9" y="267.4" font-size="7.4" fill="#2e2e2e" stroke="#2e2e2e" stroke-width="0.1" text-anchor="end">0</text>
<line x1="32.3" y1="284.7" x2="35" y2="284.7" stroke="#111" stroke-width="1.1" />
<text x="28.9" y="287.3" font-size="7.4" fill="#2e2e2e" stroke="#2e2e2e" stroke-width="0.1" text-anchor="end">-1</text>
<line x1="32.3" y1="304.6" x2="35" y2="304.6" stroke="#111" stroke-width="1.1" />
<text x="28.9" y="307.2" font-size="7.4" fill="#2e2e2e" stroke="#2e2e2e" stroke-width="0.1" text-anchor="end">-2</text>
<line x1="32.3" y1="324.5" x2="35" y2="324.5" stroke="#111" stroke-width="1.1" />
<text x="28.9" y="327.1" font-size="7.4" fill="#2e2e2e" stroke="#2e2e2e" stroke-width="0.1" text-anchor="end">-3</text>
<line x1="32.3" y1="344.4" x2="35" y2="344.4" stroke="#111" stroke-width="1.1" />
<text x="28.9" y="347" font-size="7.4" fill="#2e2e2e" stroke="#2e2e2e" stroke-width="0.1" text-anchor="end">-4</text>
<text x="28" y="367.3" font-size="7.4" fill="#444" stroke="#444" stroke-width="0.1" text-anchor="end" textLength="11.4" lengthAdjust="spacingAndGlyphs">ND</text>
<line x1="32.4" y1="351" x2="38.7" y2="348.8" stroke="#111" stroke-width="1.3" />
<line x1="32.4" y1="357.1" x2="38.7" y2="354.9" stroke="#111" stroke-width="1.3" />
<text x="35" y="373.6" font-size="7.4" fill="#2e2e2e" stroke="#2e2e2e" stroke-width="0.1" text-anchor="middle">0</text>
<text x="80.07" y="373.6" font-size="7.4" fill="#2e2e2e" stroke="#2e2e2e" stroke-width="0.1" text-anchor="middle">50</text>
<text x="125.15" y="373.6" font-size="7.4" fill="#2e2e2e" stroke="#2e2e2e" stroke-width="0.1" text-anchor="middle">100</text>
<text x="170.22" y="373.6" font-size="7.4" fill="#2e2e2e" stroke="#2e2e2e" stroke-width="0.1" text-anchor="middle">150</text>
<text x="215.3" y="373.6" font-size="7.4" fill="#2e2e2e" stroke="#2e2e2e" stroke-width="0.1" text-anchor="middle">200</text>
<text x="87.3" y="386.9" font-size="10" fill="#2e2e2e" stroke="#2e2e2e" stroke-width="0.3" textLength="84.6" lengthAdjust="spacingAndGlyphs">Days from start of therapy</text>
<text transform="translate(15.3 355.9) rotate(-90)" font-size="8.4" fill="#2e2e2e" stroke="#2e2e2e" stroke-width="0.25" textLength="106.4" lengthAdjust="spacingAndGlyphs">Log fold change in tumor ctDNA</text>
<rect x="34.8" y="393.5" width="8.5" height="6" fill="#a01226" />
<text x="46.4" y="399.1" font-size="7.5" fill="#3a3a3a" stroke="#3a3a3a" stroke-width="0.05" textLength="116.7" lengthAdjust="spacingAndGlyphs">iPET positive – Progressive disease</text>
<rect x="34.8" y="404.7" width="8.5" height="6" fill="#6aaa3a" />
<text x="46.4" y="410.3" font-size="7.5" fill="#3a3a3a" stroke="#3a3a3a" stroke-width="0.05" textLength="71.8" lengthAdjust="spacingAndGlyphs">iPET positive – Cured</text>
<rect x="34.8" y="415.9" width="8.5" height="6" fill="#e8980e" />
<text x="46.4" y="421.5" font-size="7.5" fill="#3a3a3a" stroke="#3a3a3a" stroke-width="0.05" textLength="119.4" lengthAdjust="spacingAndGlyphs">iPET negative – Progressive disease</text>
<rect x="34.8" y="427.1" width="8.5" height="6" fill="#2e6b50" />
<text x="46.4" y="432.7" font-size="7.5" fill="#3a3a3a" stroke="#3a3a3a" stroke-width="0.05" textLength="74.4" lengthAdjust="spacingAndGlyphs">iPET negative – Cured</text>
<text x="239.3" y="223.5" font-size="10.6" fill="#000" font-weight="bold" textLength="7.9" lengthAdjust="spacingAndGlyphs">E</text>
<line x1="272.8" y1="226.8" x2="272.8" y2="364.9" stroke="#111" stroke-width="1.3" />
<line x1="272.2" y1="364.3" x2="448" y2="364.3" stroke="#111" stroke-width="1.3" />
<line x1="269.6" y1="233.5" x2="272.8" y2="233.5" stroke="#111" stroke-width="1.1" />
<text x="266.3" y="236.1" font-size="7.2" fill="#2e2e2e" stroke="#2e2e2e" stroke-width="0.1" text-anchor="end">100</text>
<line x1="269.6" y1="258.34" x2="272.8" y2="258.34" stroke="#111" stroke-width="1.1" />
<text x="266.3" y="260.94" font-size="7.2" fill="#2e2e2e" stroke="#2e2e2e" stroke-width="0.1" text-anchor="end">80</text>
<line x1="269.6" y1="283.18" x2="272.8" y2="283.18" stroke="#111" stroke-width="1.1" />
<text x="266.3" y="285.78" font-size="7.2" fill="#2e2e2e" stroke="#2e2e2e" stroke-width="0.1" text-anchor="end">60</text>
<line x1="269.6" y1="308.02" x2="272.8" y2="308.02" stroke="#111" stroke-width="1.1" />
<text x="266.3" y="310.62" font-size="7.2" fill="#2e2e2e" stroke="#2e2e2e" stroke-width="0.1" text-anchor="end">40</text>
<line x1="269.6" y1="332.86" x2="272.8" y2="332.86" stroke="#111" stroke-width="1.1" />
<text x="266.3" y="335.46" font-size="7.2" fill="#2e2e2e" stroke="#2e2e2e" stroke-width="0.1" text-anchor="end">20</text>
<line x1="269.6" y1="357.7" x2="272.8" y2="357.7" stroke="#111" stroke-width="1.1" />
<text x="266.3" y="360.3" font-size="7.2" fill="#2e2e2e" stroke="#2e2e2e" stroke-width="0.1" text-anchor="end">0</text>
<line x1="281.5" y1="364.3" x2="281.5" y2="367.4" stroke="#111" stroke-width="1.1" />
<text x="281.8" y="376.9" font-size="7.9" fill="#2e2e2e" stroke="#2e2e2e" stroke-width="0.1" text-anchor="middle">0</text>
<line x1="319.2" y1="364.3" x2="319.2" y2="367.4" stroke="#111" stroke-width="1.1" />
<text x="319.5" y="376.9" font-size="7.9" fill="#2e2e2e" stroke="#2e2e2e" stroke-width="0.1" text-anchor="middle">24</text>
<line x1="356.9" y1="364.3" x2="356.9" y2="367.4" stroke="#111" stroke-width="1.1" />
<text x="357.2" y="376.9" font-size="7.9" fill="#2e2e2e" stroke="#2e2e2e" stroke-width="0.1" text-anchor="middle">48</text>
<line x1="394.6" y1="364.3" x2="394.6" y2="367.4" stroke="#111" stroke-width="1.1" />
<text x="394.9" y="376.9" font-size="7.9" fill="#2e2e2e" stroke="#2e2e2e" stroke-width="0.1" text-anchor="middle">72</text>
<line x1="432.3" y1="364.3" x2="432.3" y2="367.4" stroke="#111" stroke-width="1.1" />
<text x="432.6" y="376.9" font-size="7.9" fill="#2e2e2e" stroke="#2e2e2e" stroke-width="0.1" text-anchor="middle">96</text>
<text x="347.7" y="390.6" font-size="9.6" fill="#2e2e2e" stroke="#2e2e2e" stroke-width="0.25" textLength="25.4" lengthAdjust="spacingAndGlyphs">Months</text>
<text transform="translate(247.9 353.1) rotate(-90)" font-size="8.2" fill="#2e2e2e" stroke="#2e2e2e" stroke-width="0.25" textLength="112.2" lengthAdjust="spacingAndGlyphs">Cumulative probability of PFS (%)</text>
<path d="M281.5 233.6 H322.4 V241.9 H417.1" fill="none" stroke="#2c3f6b" stroke-width="1.5"/>
<line x1="291.5" y1="232.3" x2="291.5" y2="234.9" stroke="#2c3f6b" stroke-width="1" />
<line x1="304" y1="232.3" x2="304" y2="234.9" stroke="#2c3f6b" stroke-width="1" />
<line x1="327.7" y1="240.6" x2="327.7" y2="243.2" stroke="#2c3f6b" stroke-width="1" />
<line x1="330.5" y1="240.6" x2="330.5" y2="243.2" stroke="#2c3f6b" stroke-width="1" />
<line x1="334.4" y1="240.6" x2="334.4" y2="243.2" stroke="#2c3f6b" stroke-width="1" />
<line x1="337.3" y1="240.6" x2="337.3" y2="243.2" stroke="#2c3f6b" stroke-width="1" />
<line x1="340.2" y1="240.6" x2="340.2" y2="243.2" stroke="#2c3f6b" stroke-width="1" />
<line x1="348.5" y1="240.6" x2="348.5" y2="243.2" stroke="#2c3f6b" stroke-width="1" />
<line x1="350.8" y1="240.6" x2="350.8" y2="243.2" stroke="#2c3f6b" stroke-width="1" />
<line x1="400.4" y1="240.6" x2="400.4" y2="243.2" stroke="#2c3f6b" stroke-width="1" />
<line x1="417.1" y1="240.6" x2="417.1" y2="243.2" stroke="#2c3f6b" stroke-width="1" />
<path d="M281.5 233.6 H284.6 V254.2 H288.6 V274.9 H289.5 V295.6 H291.1 V316.3 H294.3 V337 H300.3 V357.7" fill="none" stroke="#8a1238" stroke-width="1.5"/>
<text x="333.5" y="236.5" font-size="7.6" fill="#56688f" stroke="#56688f" stroke-width="0.05" textLength="75.3" lengthAdjust="spacingAndGlyphs">&gt; -2 log fold reduction</text>
<text x="303.8" y="358" font-size="7.6" fill="#963a60" stroke="#963a60" stroke-width="0.05" textLength="74.1" lengthAdjust="spacingAndGlyphs">≤ -2 log fold reduction</text>
<text x="417.9" y="358.9" font-size="7" fill="#2e2e2e" stroke="#2e2e2e" stroke-width="0.1" textLength="26.2" lengthAdjust="spacingAndGlyphs">p&lt;0.001</text>
<line x1="250.9" y1="401" x2="269.7" y2="401" stroke="#3d5478" stroke-width="1.7" />
<line x1="250.9" y1="409.4" x2="269.7" y2="409.4" stroke="#8a1238" stroke-width="1.7" />
<text x="281.5" y="403.2" font-size="7.4" fill="#2e2e2e" stroke="#2e2e2e" stroke-width="0.1" text-anchor="middle">18</text>
<text x="281.5" y="411.9" font-size="7.4" fill="#2e2e2e" stroke="#2e2e2e" stroke-width="0.1" text-anchor="middle">6</text>
<text x="319.2" y="403.2" font-size="7.4" fill="#2e2e2e" stroke="#2e2e2e" stroke-width="0.1" text-anchor="middle">15</text>
<text x="319.2" y="411.9" font-size="7.4" fill="#2e2e2e" stroke="#2e2e2e" stroke-width="0.1" text-anchor="middle">0</text>
<text x="356.9" y="403.2" font-size="7.4" fill="#2e2e2e" stroke="#2e2e2e" stroke-width="0.1" text-anchor="middle">2</text>
<text x="356.9" y="411.9" font-size="7.4" fill="#2e2e2e" stroke="#2e2e2e" stroke-width="0.1" text-anchor="middle">0</text>
<text x="394.6" y="403.2" font-size="7.4" fill="#2e2e2e" stroke="#2e2e2e" stroke-width="0.1" text-anchor="middle">2</text>
<text x="394.6" y="411.9" font-size="7.4" fill="#2e2e2e" stroke="#2e2e2e" stroke-width="0.1" text-anchor="middle">0</text>
<text x="432.3" y="403.2" font-size="7.4" fill="#2e2e2e" stroke="#2e2e2e" stroke-width="0.1" text-anchor="middle">0</text>
<text x="432.3" y="411.9" font-size="7.4" fill="#2e2e2e" stroke="#2e2e2e" stroke-width="0.1" text-anchor="middle">0</text>
<rect x="0" y="0" width="520" height="1" fill="#000" />
<rect x="0" y="1" width="520" height="1" fill="#c4c4c4" />
<rect x="0" y="0" width="1" height="440" fill="#000" />
<rect x="1" y="0" width="1" height="440" fill="#8a8a8a" />
<rect x="519" y="0" width="1" height="440" fill="#000" />
<rect x="518" y="0" width="1" height="440" fill="#8a8a8a" />
<rect x="0" y="439" width="520" height="1" fill="#000" />
<rect x="0" y="438" width="520" height="1" fill="#7a7a7a" />
</svg>
</body></html>
